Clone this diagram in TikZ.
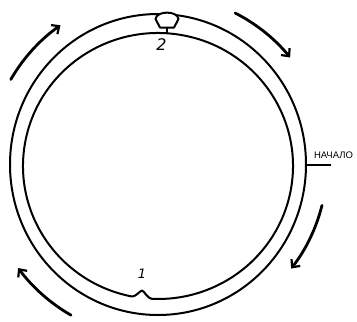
\documentclass[tikz,border=0pt]{standalone}
\usepackage{fontspec}
\newfontfamily\labfont{Liberation Sans}
\newfontfamily\numfont{DejaVu Sans}
\usetikzlibrary{arrows.meta,calc}
\begin{document}
\begin{tikzpicture}[x=1pt,y=-1pt,
  ring/.style={line width=2pt,line join=round},
  flowarrow/.style={line width=2.8pt,line cap=round,-{Straight Barb[length=6pt,width=11pt,line width=2.2pt]}},
  numlabel/.style={font=\numfont\fontsize{16}{16}\selectfont\itshape},
  startlabel/.style={font=\labfont\fontsize{9.5}{10}\selectfont}]
\useasboundingbox (0,0) rectangle (357,322);
\coordinate (c) at (158,164.5);
\coordinate (ci) at (158,166);
% outer ring
\draw[ring] (c) ellipse[x radius=148,y radius=150.5];
% inner ring with bump
\coordinate (b1) at ($(ci)+(92.6:135 and 133)$);
\coordinate (b2) at ($(ci)+(101.1:135 and 133)$);
\coordinate (peak) at (142,290.5);
\draw[ring] (b2) arc[start angle=101.1,end angle=452.6,x radius=135,y radius=133]
  .. controls +(-4,0) and +(2.2,0.5) .. (peak)
  .. controls +(-2.2,0.5) and +(4,0) .. (b2);
% knob at top
\coordinate (stemtop) at (167,27);
\coordinate (stembot) at (167,32.5);
\draw[ring] (stemtop) -- (stembot);
\draw[ring,fill=white] (160,27.5) -- (155.5,19) .. controls (156.5,10.5) and (177.5,10.5) .. (178.5,19) -- (174,27.5) -- cycle;
% labels
\node[numlabel] (two) at (161.5,45) {2};
\node[numlabel,font=\numfont\fontsize{13}{13}\selectfont\itshape] (one) at (142,274) {1};
% start tick
\coordinate (t0) at (306,165);
\coordinate (t1) at (331,165);
\draw[line width=1.5pt] (t0) -- (t1);
\node[startlabel] (start) at (333.5,155) {НАЧАЛО};
% arrows
\draw[flowarrow] ($(c)+(210:170)$) arc[start angle=210,end angle=235,radius=170];
\draw[flowarrow] ($(c)+(297:170)$) arc[start angle=297,end angle=321,radius=170];
\draw[flowarrow] ($(c)+(14:169)$) arc[start angle=14,end angle=38,radius=169];
\draw[flowarrow] ($(c)+(120:174)$) arc[start angle=120,end angle=143.5,radius=174];
\end{tikzpicture}
\end{document}
